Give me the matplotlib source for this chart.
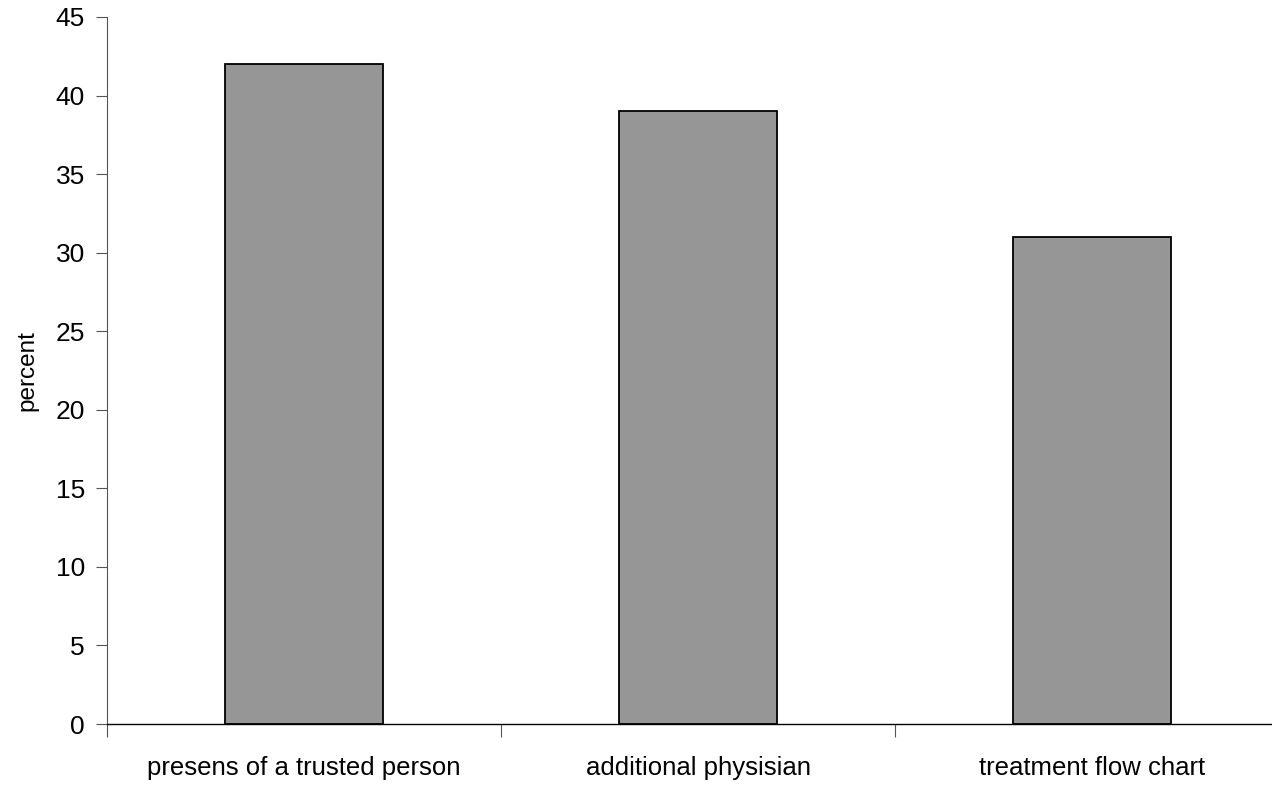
import matplotlib.pyplot as plt
from matplotlib.ticker import FixedLocator

categories = ['presens of a trusted person', 'additional physisian', 'treatment flow chart']
values = [42, 39, 31]
yticks = [0, 5, 10, 15, 20, 25, 30, 35, 40, 45]

plt.rcParams['font.family'] = ['Liberation Sans', 'DejaVu Sans']

fig = plt.figure(figsize=(12.72, 7.85), dpi=100)
# axes runs a bit past the right edge, like the original
ax = fig.add_axes([107 / 1272, 61 / 785, 1182 / 1272, 707 / 785])

x = list(range(len(categories)))
ax.bar(x, values, width=0.4, color='#969696', edgecolor='black', linewidth=1.3)

ax.set_xlim(-0.5, 2.5)
ax.set_ylim(0, 45)
ax.set_yticks(yticks)
ax.set_xticks(x)
ax.set_xticklabels(categories)
ax.xaxis.set_minor_locator(FixedLocator([-0.5, 0.5, 1.5, 2.5]))

ax.tick_params(axis='x', which='major', length=0, pad=23, labelsize=18.5)
ax.tick_params(axis='x', which='minor', length=9, width=0.8, direction='out', color='#555555')
ax.tick_params(axis='y', length=8, width=0.8, direction='out', labelsize=19, pad=8, color='#555555')

ax.set_ylabel('percent', fontsize=17.5, labelpad=12)

for s in ['top', 'right']:
    ax.spines[s].set_visible(False)
ax.spines['left'].set_color('#555555')
ax.spines['left'].set_linewidth(0.8)
ax.spines['bottom'].set_linewidth(1.0)

plt.savefig('out.png', dpi=100)
